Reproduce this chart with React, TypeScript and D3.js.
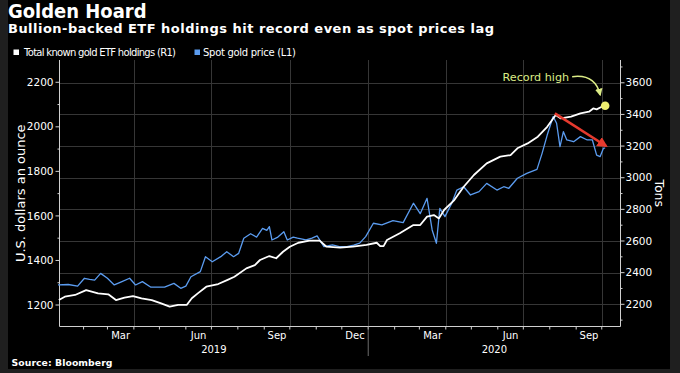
import React from 'react';
import * as d3 from 'd3';

const W = 680;
const H = 373;
const FONT = '"DejaVu Sans", "Open Sans", sans-serif';

// Spot gold price, USD/oz (left axis)
const goldDates = [
  '2019-01-02', '2019-01-14', '2019-01-25', '2019-02-02', '2019-02-08', '2019-02-14', '2019-02-21',
  '2019-03-01', '2019-03-09', '2019-03-18', '2019-03-27', '2019-04-03', '2019-04-11', '2019-04-21',
  '2019-05-07', '2019-05-18', '2019-05-26', '2019-06-01', '2019-06-07', '2019-06-18', '2019-06-24',
  '2019-07-02', '2019-07-12', '2019-07-19', '2019-07-27', '2019-08-02', '2019-08-08', '2019-08-16',
  '2019-08-23', '2019-08-30', '2019-09-04', '2019-09-07', '2019-09-10', '2019-09-17', '2019-09-24',
  '2019-09-28', '2019-10-05', '2019-10-10', '2019-10-20', '2019-10-27', '2019-11-02', '2019-11-10',
  '2019-11-20', '2019-11-28', '2019-12-07', '2019-12-15', '2019-12-22', '2019-12-29', '2020-01-07',
  '2020-01-17', '2020-01-30', '2020-02-11', '2020-02-23', '2020-03-02', '2020-03-10', '2020-03-16',
  '2020-03-21', '2020-03-25', '2020-03-31', '2020-04-08', '2020-04-14', '2020-04-22', '2020-04-30',
  '2020-05-10', '2020-05-19', '2020-05-31', '2020-06-08', '2020-06-14', '2020-06-24', '2020-07-05',
  '2020-07-17', '2020-07-23', '2020-07-29', '2020-08-05', '2020-08-09', '2020-08-13', '2020-08-17',
  '2020-08-21', '2020-08-29', '2020-09-06', '2020-09-14', '2020-09-20', '2020-09-25', '2020-09-29',
  '2020-10-03', '2020-10-05',
];
const goldPrice = [
  1290, 1292, 1285, 1320, 1315, 1312, 1342,
  1320, 1290, 1305, 1320, 1290, 1305, 1280,
  1280, 1297, 1275, 1285, 1327, 1350, 1417,
  1394, 1417, 1439, 1417, 1432, 1500, 1520,
  1505, 1544, 1535, 1552, 1492, 1505, 1529,
  1492, 1505, 1500, 1492, 1500, 1510, 1462,
  1470, 1462, 1462, 1469, 1478, 1507, 1567,
  1560, 1579, 1570, 1657, 1610, 1679, 1537,
  1477, 1634, 1597, 1657, 1716, 1731, 1694,
  1709, 1746, 1716, 1731, 1724, 1769, 1791,
  1809, 1881, 1963, 2046, 2016, 1911, 1978,
  1941, 1933, 1956, 1941, 1941, 1873, 1866,
  1904, 1904,
];

// Total known gold ETF holdings, tons (right axis)
const etfDates = [
  '2019-01-03', '2019-01-10', '2019-01-22', '2019-02-04', '2019-02-18', '2019-03-02', '2019-03-11',
  '2019-03-21', '2019-03-31', '2019-04-10', '2019-04-22', '2019-05-03', '2019-05-13', '2019-05-23',
  '2019-06-02', '2019-06-08', '2019-06-15', '2019-06-25', '2019-07-09', '2019-07-20', '2019-07-28',
  '2019-08-11', '2019-08-21', '2019-08-27', '2019-09-07', '2019-09-15', '2019-09-23', '2019-10-01',
  '2019-10-11', '2019-10-24', '2019-11-05', '2019-11-13', '2019-11-29', '2019-12-14', '2019-12-30',
  '2020-01-11', '2020-01-15', '2020-01-19', '2020-01-23', '2020-02-07', '2020-02-23', '2020-03-02',
  '2020-03-10', '2020-03-18', '2020-03-24', '2020-03-30', '2020-04-11', '2020-04-22', '2020-05-04',
  '2020-05-19', '2020-06-04', '2020-06-16', '2020-06-24', '2020-07-06', '2020-07-18', '2020-07-29',
  '2020-08-08', '2020-08-14', '2020-08-26', '2020-09-06', '2020-09-16', '2020-09-21', '2020-09-25',
  '2020-10-01', '2020-10-05',
];
const etfTons = [
  2227, 2248, 2259, 2290, 2269, 2263, 2227,
  2242, 2252, 2238, 2227, 2206, 2185, 2196,
  2196, 2238, 2269, 2311, 2328, 2354, 2374,
  2427, 2448, 2480, 2505, 2491, 2532, 2564,
  2589, 2602, 2602, 2564, 2558, 2564, 2575,
  2589, 2568, 2568, 2606, 2649, 2701, 2701,
  2754, 2764, 2743, 2796, 2859, 2943, 3017,
  3091, 3133, 3143, 3186, 3217, 3259, 3322,
  3396, 3375, 3386, 3407, 3417, 3438, 3432,
  3449, 3455,
];

const leftTicks = [1200, 1400, 1600, 1800, 2000, 2200];
const rightTicks = [2200, 2400, 2600, 2800, 3000, 3200, 3400, 3600];
const monthLabels = ['Mar', 'Jun', 'Sep', 'Dec', 'Mar', 'Jun', 'Sep'];
const monthLabelDates = ['2019-03-01', '2019-06-01', '2019-09-01', '2019-12-01', '2020-03-01', '2020-06-01', '2020-09-01'];
const yearLabels = ['2019', '2020'];

// annotation: falling spot price arrow (left-axis values)
const arrowFrom = { date: '2020-08-07', value: 2060 };
const arrowTo = { date: '2020-10-06', value: 1914 };

const parse = d3.timeParse('%Y-%m-%d');

export default function App() {
  const plot = { left: 59.5, right: 620.5, top: 60, bottom: 326.5 };

  const x = d3.scaleTime()
    .domain([new Date(2019, 0, 3, 18), new Date(2020, 9, 23)])
    .range([plot.left, plot.right]);
  const yL = d3.scaleLinear().domain([1103.5, 2300]).range([plot.bottom, plot.top]);
  const yR = d3.scaleLinear().domain([2059.7, 3744]).range([plot.bottom, plot.top]);

  const gold = goldDates.map((d, i) => ({ d: parse(d)!, v: goldPrice[i] }));
  const etf = etfDates.map((d, i) => ({ d: parse(d)!, v: etfTons[i] }));

  const goldLine = d3.line<{ d: Date; v: number }>().x(p => x(p.d)).y(p => yL(p.v));
  const etfLine = d3.line<{ d: Date; v: number }>().x(p => x(p.d)).y(p => yR(p.v));

  const quarterGrid = d3.timeMonth.every(3)!.range(new Date(2019, 1, 1), new Date(2020, 9, 23))
    .filter(d => x(d) > plot.left + 2);
  const months = d3.timeMonth.range(new Date(2019, 1, 1), new Date(2020, 9, 23));
  const leftMinor = d3.range(1200, 2300, 100);
  const rightMinor = d3.range(2100, 3744, 100);

  const last = etf[etf.length - 1];
  const dotX = x(last.d);
  const dotY = yR(last.v);

  const a1 = [x(parse(arrowFrom.date)!), yL(arrowFrom.value)];
  const a2 = [x(parse(arrowTo.date)!), yL(arrowTo.value)];

  const yearSplit = x(new Date(2020, 0, 1));
  const yearCenters = [(plot.left + yearSplit) / 2, (yearSplit + plot.right) / 2];

  const axisColor = '#d0d0d0';
  const gridColor = '#363636';

  return (
    <svg width={W} height={H} style={{ position: 'absolute', left: 0, top: 0, display: 'block' }}
      fontFamily={FONT}>
      <defs>
        <marker id="redHead" viewBox="0 0 10 10" refX="8" refY="5" markerWidth="4" markerHeight="4"
          orient="auto" markerUnits="strokeWidth">
          <path d="M0,0 L10,5 L0,10 z" fill="#e63a2e" />
        </marker>
        <marker id="ylwHead" viewBox="0 0 10 10" refX="8" refY="5" markerWidth="5" markerHeight="5"
          orient="auto" markerUnits="strokeWidth">
          <path d="M0,0 L10,5 L0,10 z" fill="#dcec86" />
        </marker>
      </defs>
      <rect x={0} y={0} width={W} height={H} fill="#1f1f1f" />
      <rect x={8} y={0} width={662} height={369} fill="#000" />

      <text x={8} y={17.5} fill="#fff" fontSize={19.5} fontWeight="bold"
        textLength={138.5} lengthAdjust="spacingAndGlyphs">Golden Hoard</text>
      <text x={8} y={33} fill="#fff" fontSize={13} fontWeight="bold"
        textLength={486} lengthAdjust="spacing">
        Bullion-backed ETF holdings hit record even as spot prices lag
      </text>

      {/* legend */}
      <rect x={13.5} y={49.5} width={5.5} height={5.5} fill="#fff" />
      <text x={24} y={55.5} fill="#fff" fontSize={10} textLength={152} lengthAdjust="spacing">
        Total known gold ETF holdings (R1)
      </text>
      <rect x={194.5} y={49.5} width={5.5} height={5.5} fill="#5b9cf0" />
      <text x={203} y={55.5} fill="#fff" fontSize={10} textLength={93} lengthAdjust="spacing">
        Spot gold price (L1)
      </text>

      {/* grid */}
      {rightTicks.map(t => (
        <line key={'h' + t} x1={plot.left} x2={plot.right} y1={Math.round(yR(t)) + 0.5} y2={Math.round(yR(t)) + 0.5}
          stroke={gridColor} strokeWidth={1} />
      ))}
      {quarterGrid.map(d => (
        <line key={'v' + d.getTime()} x1={Math.round(x(d)) + 0.5} x2={Math.round(x(d)) + 0.5}
          y1={plot.top} y2={plot.bottom} stroke={gridColor} strokeWidth={1} />
      ))}

      {/* axes */}
      <line x1={plot.left} x2={plot.left} y1={plot.top} y2={plot.bottom} stroke={axisColor} />
      <line x1={plot.right} x2={plot.right} y1={plot.top} y2={plot.bottom} stroke={axisColor} />
      <line x1={plot.left} x2={plot.right} y1={plot.bottom} y2={plot.bottom} stroke={axisColor} />

      {leftMinor.map(v => (
        <line key={'lm' + v} x1={plot.left - (v % 200 === 0 ? 4 : 2)} x2={plot.left}
          y1={yL(v)} y2={yL(v)} stroke={axisColor} />
      ))}
      {leftTicks.map(v => (
        <text key={'lt' + v} x={plot.left - 6} y={yL(v)} dy="0.35em" textAnchor="end"
          fill="#fff" fontSize={10.5}>{v}</text>
      ))}
      {rightMinor.map(v => (
        <line key={'rm' + v} x1={plot.right} x2={plot.right + (v % 200 === 0 ? 4 : 2)}
          y1={yR(v)} y2={yR(v)} stroke={axisColor} />
      ))}
      {rightTicks.map(v => (
        <text key={'rt' + v} x={plot.right + 5} y={yR(v)} dy="0.35em"
          fill="#fff" fontSize={10.5}>{v}</text>
      ))}
      {months.map(d => (
        <line key={'mt' + d.getTime()} x1={x(d)} x2={x(d)} y1={plot.bottom} y2={plot.bottom + 3}
          stroke={axisColor} />
      ))}
      {monthLabels.map((m, i) => {
        const s = parse(monthLabelDates[i])!;
        const e = d3.timeMonth.offset(s, 1);
        return (
          <text key={'ml' + i} x={(x(s) + x(e)) / 2} y={338.5} textAnchor="middle"
            fill="#fff" fontSize={10}>{m}</text>
        );
      })}
      <line x1={yearSplit} x2={yearSplit} y1={plot.bottom} y2={356} stroke="#888" strokeWidth={0.8} />
      {yearLabels.map((yl, i) => (
        <text key={yl} x={yearCenters[i]} y={352.5} textAnchor="middle" fill="#fff" fontSize={10}>{yl}</text>
      ))}

      <text transform={`translate(20,${(plot.top + plot.bottom) / 2}) rotate(-90)`} textAnchor="middle"
        dy="0.35em" fill="#fff" fontSize={13}>U.S. dollars an ounce</text>
      <text transform={`translate(659,${(plot.top + plot.bottom) / 2}) rotate(90)`} textAnchor="middle"
        dy="0.35em" fill="#fff" fontSize={12.5}>Tons</text>

      <text x={11.5} y={365.5} fill="#fff" fontSize={9.3} fontWeight="bold"
        textLength={101} lengthAdjust="spacing">Source: Bloomberg</text>

      {/* series */}
      <path d={goldLine(gold)!} fill="none" stroke="#5b9cf0" strokeWidth={1.3} strokeLinejoin="round" />
      <path d={etfLine(etf)!} fill="none" stroke="#fff" strokeWidth={1.8} strokeLinejoin="round" />

      {/* annotations */}
      <line x1={a1[0]} y1={a1[1]} x2={a2[0]} y2={a2[1]} stroke="#e63a2e" strokeWidth={2.6}
        markerEnd="url(#redHead)" />
      <circle cx={dotX} cy={dotY} r={4.3} fill="#f0f070" />
      <text x={dotX - 36} y={dotY - 25} textAnchor="end" fill="#dcec86" fontSize={11.2}>Record high</text>
      <path d={`M${dotX - 33},${dotY - 29} Q${dotX - 10},${dotY - 32} ${dotX - 5},${dotY - 11}`}
        fill="none" stroke="#dcec86" strokeWidth={1.5} markerEnd="url(#ylwHead)" />
    </svg>
  );
}
